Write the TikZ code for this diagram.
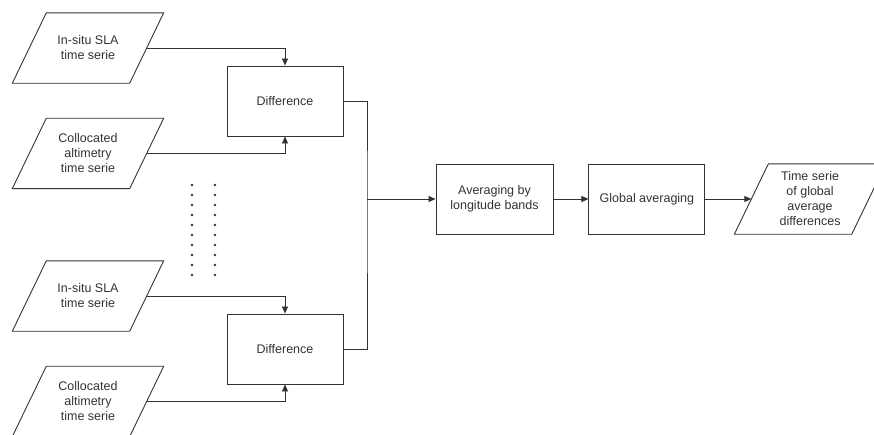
\documentclass[tikz,border=0pt]{standalone}
\usepackage{fontspec}
\setmainfont{Liberation Sans}
\usetikzlibrary{positioning,arrows.meta}
\definecolor{linecolor}{rgb}{0.2, 0.2, 0.2}

\begin{document}
\begin{tikzpicture}[
    x=1pt, y=-1pt,
    >={Triangle[length=7pt,width=6pt]},
    block/.style={draw=linecolor, rectangle, line width=0.9pt, minimum height=70pt, minimum width=116pt},
    data/.style={rectangle, minimum height=70pt, minimum width=117pt, inner sep=0pt,
        append after command={\pgfextra{\draw[linecolor, line width=0.9pt]
            ([xshift=17pt]\tikzlastnode.north west) -- ([xshift=17pt]\tikzlastnode.north east)
            -- ([xshift=-17pt]\tikzlastnode.south east) -- ([xshift=-17pt]\tikzlastnode.south west) -- cycle;}}},
    dot/.style={circle, fill=linecolor, inner sep=0.9pt},
    every node/.style={text=linecolor, font=\fontsize{12.5}{15}\selectfont, align=center}
]
\useasboundingbox (0,0) rectangle (874,434);
\clip (0,0) rectangle (874,434);

% Inputs, first branch
\node[data] (insitu1) at (88,48) {In-situ SLA\\time serie};
\node[data, below=35pt of insitu1] (coloc1) {Collocated\\altimetry\\time serie};

% Inputs, last branch
\node[data] (insitu2) at (88,296) {In-situ SLA\\time serie};
\node[data, below=35pt of insitu2] (coloc2) {Collocated\\altimetry\\time serie};

% Difference blocks
\node[block] (diff1) at (285,101) {Difference};
\node[block] (diff2) at (285,349) {Difference};

% Averaging chain
\node[block, minimum width=117pt] (avg) at (494.5,199) {Averaging by\\longitude bands};
\node[block, right=35pt of avg] (glob) {Global averaging};
\node[data, right=46pt of glob] (result) {Time serie\\of global\\average\\differences};

\coordinate (join) at (367,199);

% Vertical dots
\foreach \i in {0,...,9} {
    \node[dot] (dotl\i) at (192,185+10*\i) {};
    \node[dot] (dotr\i) at (215,185+10*\i) {};
}

% Connections
\draw[->, linecolor, line width=0.8pt] (insitu1.east) -| (diff1.north);
\draw[->, linecolor, line width=0.8pt] (coloc1.east) -| (diff1.south);
\draw[->, linecolor, line width=0.8pt] (insitu2.east) -| (diff2.north);
\draw[->, linecolor, line width=0.8pt] (coloc2.east) -| (diff2.south);

\draw[linecolor, line width=0.8pt] (diff1.east) -| (join) |- (diff2.east);
\draw[->, linecolor, line width=0.8pt] (join) -- (avg);
\draw[->, linecolor, line width=0.8pt] (avg) -- (glob);
\draw[->, linecolor, line width=0.8pt] (glob) -- (result);

\end{tikzpicture}
\end{document}
